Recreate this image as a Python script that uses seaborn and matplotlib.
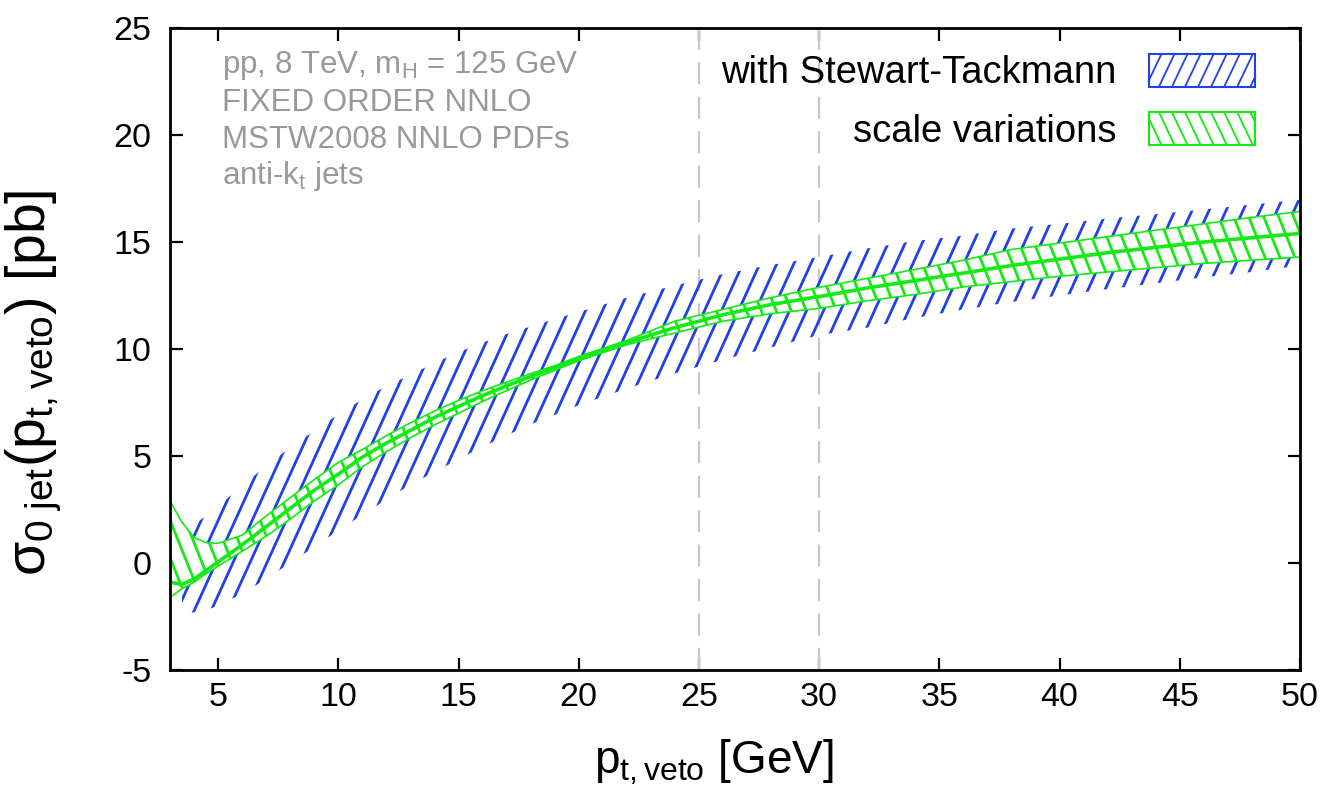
import numpy as np
import pandas as pd
import matplotlib
matplotlib.use("Agg")
import matplotlib.pyplot as plt
import seaborn as sns
from matplotlib.collections import LineCollection
from matplotlib.patches import Rectangle, Patch
from matplotlib.lines import Line2D
from matplotlib.legend_handler import HandlerBase

# ---------------- data ----------------
# Stewart-Tackmann band
x_st = [3.5, 4, 4.5, 5, 6, 7, 8, 9, 10, 11, 12, 13, 14, 15, 16, 17, 18, 19, 20,
        22, 24, 26, 28, 30, 32, 34, 36, 38, 40, 42, 44, 46, 48, 50]
st_hi = [1.3, 1.8, 2.2, 2.65, 3.6, 4.55, 5.4, 6.17, 6.95, 7.65, 8.27, 8.79, 9.35,
         9.85, 10.3, 10.7, 11.05, 11.4, 11.73, 12.4, 12.97, 13.5, 13.93, 14.3,
         14.7, 15.05, 15.3, 15.63, 15.85, 16.1, 16.3, 16.52, 16.75, 16.97]
st_lo = [-2.45, -2.3, -2.2, -2.0, -1.43, -0.75, 0.0, 0.75, 1.52, 2.25, 2.96, 3.66,
         4.25, 4.85, 5.42, 5.96, 6.48, 6.92, 7.37, 8.15, 8.86, 9.5, 10.08, 10.65,
         11.0, 11.45, 11.85, 12.2, 12.5, 12.8, 13.07, 13.35, 13.6, 13.9]

# scale-variation band and central value
x_sv = [3, 3.5, 4, 4.5, 5, 6, 7, 8, 9, 10, 11, 12, 13, 14, 15, 16, 17, 18, 19, 20,
        22, 24, 26, 28, 30, 32, 34, 36, 38, 40, 42, 44, 46, 48, 50]
sv_hi = [2.9, 1.9, 1.2, 0.95, 0.92, 1.3, 2.2, 3.05, 3.9, 4.7, 5.3, 5.95, 6.55, 7.1,
         7.6, 8.05, 8.45, 8.85, 9.22, 9.65, 10.4, 11.3, 11.85, 12.4, 12.88, 13.3,
         13.72, 14.15, 14.65, 14.95, 15.25, 15.55, 15.85, 16.15, 16.43]
sv_lo = [-1.6, -1.2, -0.9, -0.5, -0.15, 0.55, 1.25, 2.05, 2.9, 3.65, 4.5, 5.2, 5.85,
         6.45, 7.0, 7.55, 8.05, 8.55, 9.0, 9.45, 10.2, 10.75, 11.3, 11.65, 11.9,
         12.25, 12.55, 12.9, 13.15, 13.4, 13.6, 13.8, 14.0, 14.15, 14.3]
sv_mid = [-0.9, -1.0, -0.75, -0.35, 0.05, 0.85, 1.7, 2.55, 3.4, 4.15, 4.95, 5.6,
          6.2, 6.8, 7.32, 7.82, 8.28, 8.72, 9.12, 9.55, 10.3, 11.0, 11.6, 12.08,
          12.45, 12.85, 13.2, 13.55, 13.9, 14.2, 14.5, 14.75, 15.0, 15.2, 15.4]

x_ticks = [5, 10, 15, 20, 25, 30, 35, 40, 45, 50]
y_ticks = [-5, 0, 5, 10, 15, 20, 25]
vlines_x = [25, 30]

info_lines = ["pp, 8 TeV, m$_\\mathrm{H}$ = 125 GeV", "FIXED ORDER NNLO",
              "MSTW2008 NNLO PDFs", "anti-k$_\\mathrm{t}$ jets"]
legend_labels = ["with Stewart-Tackmann", "scale variations"]

# ---------------- style ----------------
sns.set_theme(style="ticks")
plt.rcParams["font.family"] = ["Liberation Sans", "DejaVu Sans"]
plt.rcParams["mathtext.fontset"] = "custom"
plt.rcParams["mathtext.rm"] = "Liberation Sans"
plt.rcParams["mathtext.it"] = "Liberation Sans"
plt.rcParams["mathtext.bf"] = "Liberation Sans:bold"
plt.rcParams["axes.unicode_minus"] = False
plt.rcParams["text.color"] = "black"

BLUE = "#2040ea"
GREEN = "#14ea14"
GREY_TXT = "#999999"

W_IN, H_IN, DPI = 13.29, 7.89, 100
fig = plt.figure(figsize=(W_IN, H_IN), dpi=DPI)
ax_left, ax_bottom, ax_w, ax_h = 170/1329, 1 - 670/789, 1130/1329, 642/789
ax = fig.add_axes([ax_left, ax_bottom, ax_w, ax_h])
W_PX = W_IN * DPI * ax_w
H_PX = H_IN * DPI * ax_h

ax.set_xlim(3, 50)
ax.set_ylim(-5, 25)

df_st = pd.DataFrame({"x": x_st, "hi": st_hi, "lo": st_lo})
df_sv = pd.DataFrame({"x": x_sv, "hi": sv_hi, "lo": sv_lo, "mid": sv_mid})


def hatch_lines(slope, spacing, lw, color, clip_coll, zorder):
    """steep hatch lines (pixel slope), clipped to a fill_between polygon"""
    segs = []
    span = H_PX / abs(slope)
    c = -span - spacing
    while c < W_PX + span + spacing:
        if slope > 0:
            p0 = (c / W_PX, 0.0)
            p1 = ((c + span) / W_PX, 1.0)
        else:
            p0 = ((c + span) / W_PX, 0.0)
            p1 = (c / W_PX, 1.0)
        segs.append([p0, p1])
        c += spacing
    lc = LineCollection(segs, colors=color, linewidths=lw, transform=ax.transAxes,
                        zorder=zorder, capstyle="butt")
    lc.set_clip_path(clip_coll.get_paths()[0], ax.transData)
    ax.add_collection(lc)


# dashed reference lines
for xv in vlines_x:
    ax.axvline(xv, color="#c8c8c8", lw=1.6, dashes=(10, 5.5), zorder=1)

# Stewart-Tackmann band (hatched only)
poly_st = ax.fill_between(df_st["x"], df_st["lo"], df_st["hi"], facecolor="none",
                          edgecolor="none", lw=0, zorder=2)
hatch_lines(2.2, 17.0, 2.0, BLUE, poly_st, 2)

# scale-variation band: white fill, green hatch, edges, central line
poly_sv = ax.fill_between(df_sv["x"], df_sv["lo"], df_sv["hi"], facecolor="white",
                          edgecolor="none", lw=0, zorder=3)
hatch_lines(-2.5, 15.0, 2.0, GREEN, poly_sv, 4)
sns.lineplot(data=df_sv, x="x", y="hi", color=GREEN, lw=1.2, ax=ax, zorder=5)
sns.lineplot(data=df_sv, x="x", y="lo", color=GREEN, lw=1.2, ax=ax, zorder=5)
sns.lineplot(data=df_sv, x="x", y="mid", color=GREEN, lw=2.6, ax=ax, zorder=6)

# axes cosmetics
ax.set_xticks(x_ticks)
ax.set_yticks(y_ticks)
ax.set_xticklabels([str(v) for v in x_ticks])
ax.set_yticklabels([str(v) for v in y_ticks])
ax.tick_params(direction="in", length=9, width=1.6, top=True, right=True,
               labelsize=24.5, colors="black", pad=13.5)
ax.tick_params(axis="x", pad=9)
for sp in ax.spines.values():
    sp.set_linewidth(2.0)
    sp.set_color("black")
    sp.set_visible(True)
    sp.set_zorder(10)

ax.set_xlabel(r"p$_\mathrm{t,veto}$ [GeV]", fontsize=33, color="black")
ax.xaxis.set_label_coords(0.481, -0.105)
ax.set_ylabel(r"$\sigma_{\mathrm{0\ jet}}(\mathrm{p}_{\mathrm{t,veto}})$ [pb]",
              fontsize=40, color="black")
ax.yaxis.set_label_coords(-0.094, 0.447)

# info text
base_y = [0.9294, 0.8707, 0.8126, 0.757]
for txt, yy in zip(info_lines, base_y):
    ax.text(0.046, yy, txt, transform=ax.transAxes, fontsize=22.5, color=GREY_TXT,
            va="baseline", ha="left", zorder=11)


# legend with steep hatched boxes
class SteepHatchHandler(HandlerBase):
    def __init__(self, color, slope, spacing):
        super().__init__()
        self.color, self.slope, self.spacing = color, slope, spacing

    def create_artists(self, legend, orig_handle, xdescent, ydescent, width,
                       height, fontsize, trans):
        x0, y0 = -xdescent, -ydescent
        arts = [Rectangle((x0, y0), width, height, facecolor="white",
                          edgecolor=self.color, lw=1.5, transform=trans)]
        dx_full = height / abs(self.slope)
        c = -dx_full
        while c < width + dx_full:
            xa, xb = (c, c + dx_full) if self.slope > 0 else (c + dx_full, c)
            t0, t1 = 0.0, 1.0
            if xb != xa:
                ta = (0.0 - xa) / (xb - xa)
                tb = (width - xa) / (xb - xa)
                t0 = max(t0, min(ta, tb))
                t1 = min(t1, max(ta, tb))
            if t1 > t0:
                xs = [x0 + xa + t0 * (xb - xa), x0 + xa + t1 * (xb - xa)]
                ys = [y0 + t0 * height, y0 + t1 * height]
                arts.append(Line2D(xs, ys, color=self.color, lw=1.3,
                                   transform=trans))
            c += self.spacing
        return arts


h_st = Patch(label=legend_labels[0])
h_sv = Patch(label=legend_labels[1])
leg = ax.legend(handles=[h_st, h_sv], labels=legend_labels, loc="upper right",
                bbox_to_anchor=(0.9606, 0.96), frameon=False, markerfirst=False,
                fontsize=27.5, handlelength=2.8, handleheight=0.95,
                handletextpad=0.85, labelspacing=0.55, borderpad=0, borderaxespad=0,
                handler_map={h_st: SteepHatchHandler(BLUE, 2.1, 9.4),
                             h_sv: SteepHatchHandler(GREEN, -2.1, 9.4)})
for t in leg.get_texts():
    t.set_color("black")
leg.set_zorder(12)

fig.savefig("out.png", dpi=DPI)
